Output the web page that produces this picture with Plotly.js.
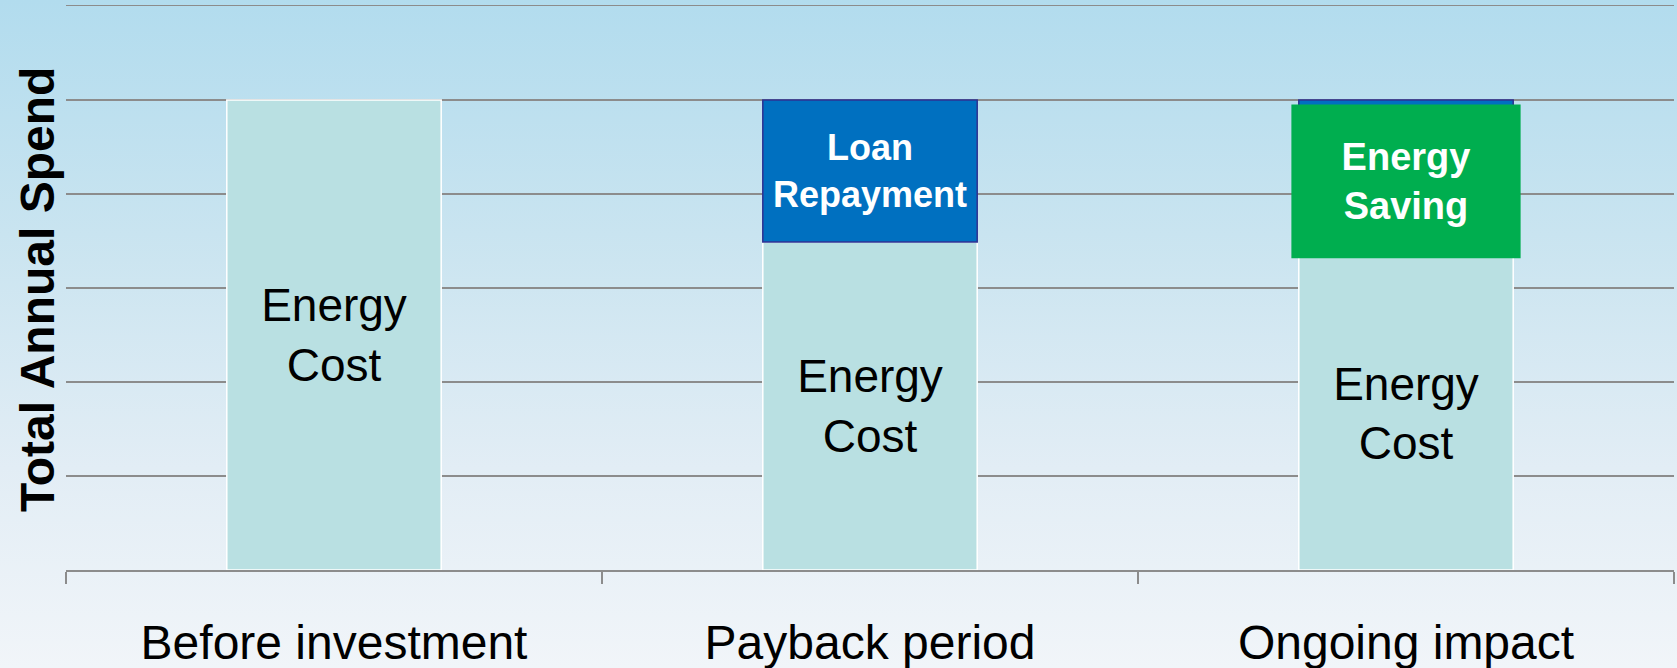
<!DOCTYPE html>
<html>
<head>
<meta charset="utf-8">
<script src="https://cdn.plot.ly/plotly-3.0.1.min.js"></script>
<style>
  html, body { margin: 0; padding: 0; width: 1677px; height: 668px; overflow: hidden;
    background: linear-gradient(to bottom, #B2DCEE 0%, #C9E4F0 35%, #E2EDF5 70%, #F1F5F9 100%); }
  #chart { width: 1677px; height: 668px; }
</style>
</head>
<body>
<div id="chart"></div>
<script>
const categories = ["Before investment", "Payback period", "Ongoing impact"];
const energyCost = [5, 3.49, 3.33];
const loanRepayment = [0, 1.51, 1.67];
const energySaving = [0, 0, 1.61];
const energyCostLabels = ["Energy<br>Cost", "Energy<br>Cost", "Energy<br>Cost"];
const loanLabels = ["", "Loan<br>Repayment", ""];
const savingLabels = ["", "", "Energy<br>Saving"];
const yTitle = "Total Annual Spend";

const font = "Liberation Sans, Arial, sans-serif";

const traces = [
  {
    type: "bar", x: categories, y: energyCost, base: [0, 0, 0],
    width: 0.4,
    marker: { color: "#B9E0E2", line: { color: "#FFFFFF", width: 1.5 } },
    text: energyCostLabels, textposition: "inside", insidetextanchor: "middle",
    textfont: { family: font, size: 46, color: "#000000" },
    hoverinfo: "skip", showlegend: false
  },
  {
    type: "bar", x: categories, y: loanRepayment, base: energyCost,
    width: 0.4,
    marker: { color: "#0070C0", line: { color: "#2E3192", width: [0, 1.5, 1.5] } },
    text: loanLabels, textposition: "inside", insidetextanchor: "middle",
    textfont: { family: font, size: 36, color: "#FFFFFF", weight: "bold" },
    hoverinfo: "skip", showlegend: false
  },
  {
    type: "bar", x: categories, y: energySaving, base: energyCost,
    width: 0.423,
    marker: { color: "#00AE4F", line: { color: "#00AE4F", width: [0, 0, 2.5] } },
    text: savingLabels, textposition: "inside", insidetextanchor: "middle",
    textfont: { family: font, size: 38, color: "#FFFFFF", weight: "bold" },
    hoverinfo: "skip", showlegend: false
  }
];

const layout = {
  width: 1677, height: 668,
  paper_bgcolor: "rgba(0,0,0,0)", plot_bgcolor: "rgba(0,0,0,0)",
  barmode: "overlay",
  margin: { l: 66, r: 3, t: 6, b: 98, autoexpand: false },
  font: { family: font, color: "#000000" },
  xaxis: {
    showgrid: false, showline: true, mirror: true, linecolor: "#8C8C8C", linewidth: 1.5,
    ticks: "outside", tickson: "boundaries", ticklen: 12, tickcolor: "#8C8C8C", tickwidth: 1.5,
    tickfont: { family: font, size: 48, color: "#000000" },
    ticklabelstandoff: 30,
    fixedrange: true, automargin: false
  },
  yaxis: {
    range: [0, 6], dtick: 1, tick0: 0,
    showgrid: true, gridcolor: "#8C8C8C", gridwidth: 1.5,
    zeroline: false, showticklabels: false, ticks: "",
    fixedrange: true, automargin: false
  },
  annotations: [
    {
      text: yTitle, textangle: -90, showarrow: false,
      xref: "paper", yref: "paper", x: 0, y: 0.5, xanchor: "center", yanchor: "middle",
      xshift: -29, yshift: -2,
      font: { family: font, size: 48, color: "#000000", weight: "bold" }
    }
  ]
};

Plotly.newPlot("chart", traces, layout, { displayModeBar: false, staticPlot: true });
</script>
</body>
</html>
